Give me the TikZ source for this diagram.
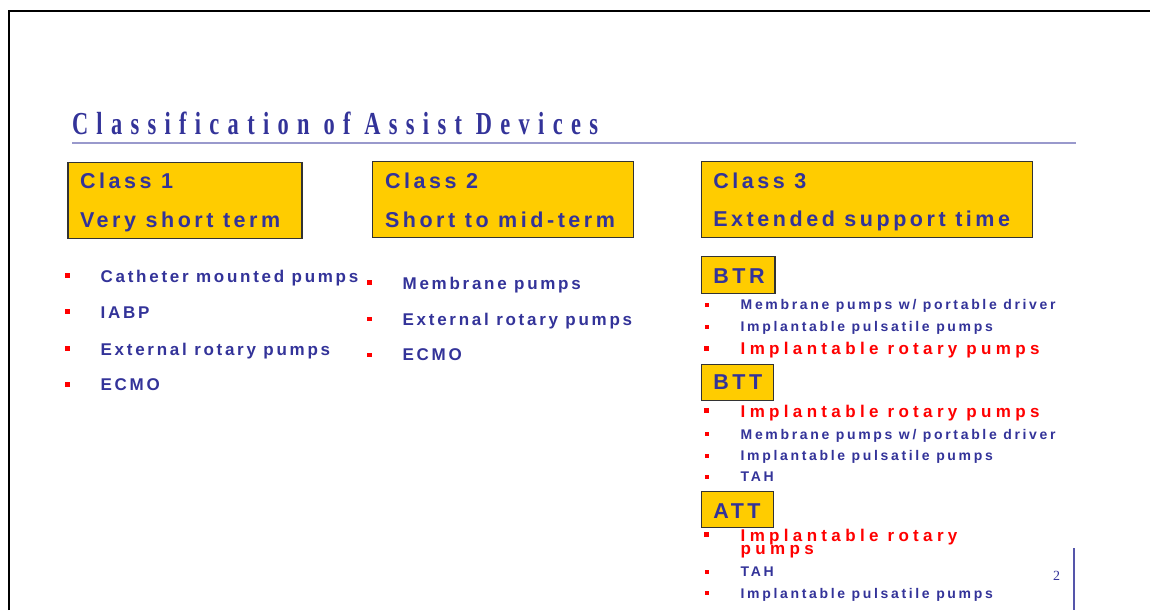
\documentclass[tikz,border=0pt]{standalone}
\usepackage{fontspec}
\setmainfont{Liberation Sans}
\newfontfamily\titlefont[FakeStretch=0.7,LetterSpace=26]{Liberation Serif}
\newfontfamily\clsfont[LetterSpace=16.5]{Liberation Sans}
\newfontfamily\itemfont[LetterSpace=16]{Liberation Sans}
\newfontfamily\smallfont[LetterSpace=19]{Liberation Sans}
\newfontfamily\redfont[LetterSpace=25.5]{Liberation Sans}
\newfontfamily\pgfont{Liberation Serif}
\definecolor{navy}{HTML}{333399}
\definecolor{gold}{HTML}{FFCC00}
\definecolor{boxgray}{HTML}{333333}
\definecolor{ruleblue}{HTML}{9999CC}
\definecolor{vline}{HTML}{5555AA}
\tikzset{
  txt/.style={anchor=base west, inner sep=0pt, outer sep=0pt, text=navy},
  title/.style={txt, font=\titlefont\bfseries\fontsize{32}{32}\selectfont},
  cls/.style={txt, font=\clsfont\bfseries\fontsize{21.5}{21.5}\selectfont},
  item/.style={txt, font=\itemfont\bfseries\fontsize{17}{17}\selectfont},
  sitem/.style={txt, font=\smallfont\bfseries\fontsize{14}{14}\selectfont},
  ritem/.style={txt, text=red, font=\redfont\bfseries\fontsize{17}{17}\selectfont},
  ybox/.style={draw=boxgray, line width=1.3pt, fill=gold, anchor=north west, inner sep=0pt},
  bul/.style={fill=red, draw=none, inner sep=0pt, minimum size=4.5pt},
  sbul/.style={bul, minimum size=4pt},
  rbul/.style={bul, minimum size=5pt},
}
\begin{document}
\begin{tikzpicture}[x=1pt,y=-1pt]
\useasboundingbox (0,0) rectangle (1150,610);
% frame
\coordinate (fr1) at (8.5,610);
\coordinate (fr2) at (8.5,11);
\coordinate (fr3) at (1150,11);
\draw[line width=2pt] (fr1) -- (fr2) -- (fr3);
% title
\node[title] (ttl) at (72,134) {Classification of Assist Devices};
\coordinate (ul1) at (72,143);
\coordinate (ul2) at (1076,143);
\draw[ruleblue, line width=1.5pt] (ul1) -- (ul2);
% class boxes
\node[ybox, minimum width=234pt, minimum height=76pt] (b1) at (67.3,161.5) {};
\node[ybox, minimum width=261pt, minimum height=76pt] (b2) at (372,161) {};
\node[ybox, minimum width=331pt, minimum height=76pt] (b3) at (700.7,161) {};
\node[cls] (c1a) at (80,188.3) {Class 1};
\node[cls] (c1b) at (80,227.3) {Very short term};
\node[cls] (c2a) at (385,188.3) {Class 2};
\node[cls] (c2b) at (385,227.3) {Short to mid-term};
\node[cls] (c3a) at (713.3,188.3) {Class 3};
\node[cls] (c3b) at (713.3,226.5) {Extended support time};
% class 1 items
\node[bul] (p11) at (67.5,275.7) {};
\node[bul] (p12) at (67.5,311.7) {};
\node[bul] (p13) at (67.5,348.3) {};
\node[bul] (p14) at (67.5,384.3) {};
\node[item] (i11) at (100.7,282.5) {Catheter mounted pumps};
\node[item] (i12) at (100.7,318.3) {IABP};
\node[item] (i13) at (100.7,355) {External rotary pumps};
\node[item] (i14) at (100.7,390.7) {ECMO};
% class 2 items
\node[bul] (p21) at (369.5,282.7) {};
\node[bul] (p22) at (369.5,319) {};
\node[bul] (p23) at (369.5,355) {};
\node[item] (i21) at (402.7,289) {Membrane pumps};
\node[item] (i22) at (402.7,325) {External rotary pumps};
\node[item] (i23) at (402.7,360.5) {ECMO};
% BTR
\node[ybox, minimum width=73.6pt, minimum height=37pt] (btr) at (700.7,255.7) {};
\node[cls] (btrt) at (713.3,283.3) {BTR};
\node[sbul] (q1) at (706.7,305) {};
\node[sbul] (q2) at (706.7,326.7) {};
\node[rbul] (q3) at (706.7,348.3) {};
\node[sitem] (r1) at (740.7,309) {Membrane pumps w/ portable driver};
\node[sitem] (r2) at (740.7,331) {Implantable pulsatile pumps};
\node[ritem] (r3) at (740.7,354.3) {Implantable rotary pumps};
% BTT
\node[ybox, minimum width=72pt, minimum height=36pt] (btt) at (700.7,364) {};
\node[cls] (bttt) at (713.3,389.3) {BTT};
\node[rbul] (s1) at (706.7,410.7) {};
\node[sbul] (s2) at (706.7,434) {};
\node[sbul] (s3) at (706.7,456) {};
\node[sbul] (s4) at (706.7,476.7) {};
\node[ritem] (t1) at (740.7,417.3) {Implantable rotary pumps};
\node[sitem] (t2) at (740.7,439) {Membrane pumps w/ portable driver};
\node[sitem] (t3) at (740.7,460.7) {Implantable pulsatile pumps};
\node[sitem] (t4) at (740.7,481.7) {TAH};
% ATT
\node[ybox, minimum width=72pt, minimum height=35.7pt] (att) at (700.7,491) {};
\node[cls] (attt) at (713.3,518.3) {ATT};
\node[rbul] (u1) at (706.7,534) {};
\node[sbul] (u2) at (706.7,571.7) {};
\node[sbul] (u3) at (706.7,592.7) {};
\node[ritem] (v1a) at (740.7,541.7) {Implantable rotary};
\node[ritem] (v1b) at (740.7,554) {pumps};
\node[sitem] (v2) at (740.7,576.7) {TAH};
\node[sitem] (v3) at (740.7,598.3) {Implantable pulsatile pumps};
% page number and rule
\node[txt, font=\pgfont\fontsize{14}{14}\selectfont] (pg) at (1053,580.7) {2};
\coordinate (vl1) at (1074,548.3);
\coordinate (vl2) at (1074,610);
\draw[vline, line width=1.5pt] (vl1) -- (vl2);
\end{tikzpicture}
\end{document}
